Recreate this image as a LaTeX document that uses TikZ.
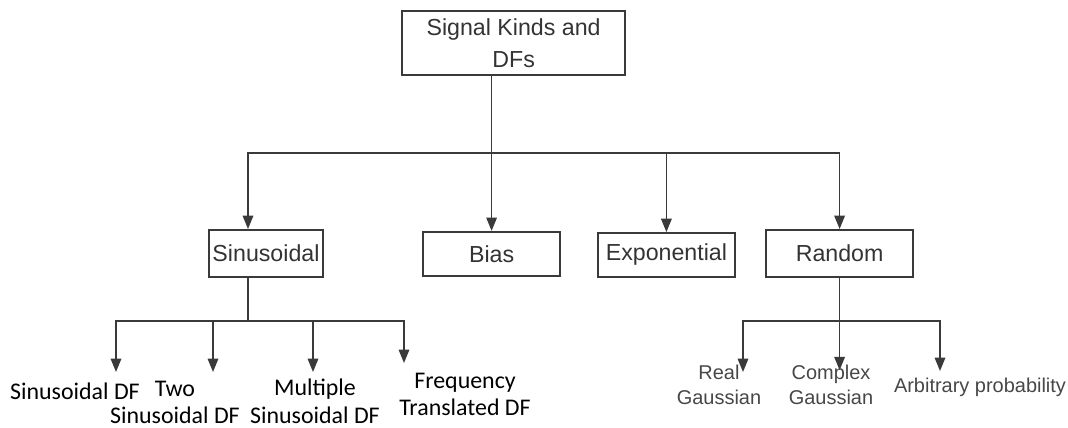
\documentclass[tikz,border=0pt]{standalone}
\usepackage{fontspec}
\setmainfont{Liberation Sans}
\newfontfamily\calibri{Carlito}
\usepackage{xcolor}
\usepackage{tikz}
\usetikzlibrary{arrows.meta, positioning}
\definecolor{linegray}{HTML}{3A3A3A}
\definecolor{textgray}{HTML}{333333}
\definecolor{leafgray}{HTML}{474747}
\tikzstyle{arrow} = [-{Triangle[length=9.5pt,width=7.5pt]}, line width=1.1pt, draw=linegray]
\tikzstyle{line} = [line width=1.1pt, draw=linegray]
\tikzstyle{block} = [rectangle, draw=linegray, line width=1.3pt, inner sep=0pt, text centered, text=textgray, font=\fontsize{16.5}{25}\selectfont]
\tikzstyle{leaf} = [align=center, inner sep=0pt, anchor=north, font=\calibri\fontsize{17}{19.5}\selectfont]
\tikzstyle{leafsans} = [align=center, inner sep=0pt, anchor=north, text=leafgray, font=\fontsize{14.2}{17.8}\selectfont]

\begin{document}
\begin{tikzpicture}
  \useasboundingbox (0, 0) rectangle (26.7, 10.675);

  % First Layer
  \node[block, align=center, minimum width=5.575cm, minimum height=1.6cm] (kinds) at (12.84, 9.6) {\raisebox{-2pt}{Signal Kinds and}\\DFs};

  % Second Layer
  \node[block, minimum width=2.85cm, minimum height=1.175cm] (sinus) at (6.65, 4.34) {Sinusoidal};
  \node[block, minimum width=3.425cm, minimum height=1.1cm] (bias) at (12.29, 4.33) {Bias};
  \node[block, minimum width=3.425cm, minimum height=1.1cm] (expo) at (16.66, 4.3) {Exponential};
  \node[block, minimum width=3.675cm, minimum height=1.175cm] (random) at (20.99, 4.34) {Random};

  \coordinate (hub) at (12.29, 6.85);

  \draw[arrow] (kinds.south -| hub) -- (bias.north);
  \draw[arrow] (hub) -| ([xshift=-0.45cm]sinus.north);
  \draw[arrow] (hub) -| (random.north);
  \draw[arrow] (hub -| expo.north) -- (expo.north);

  % Third Layer
  \coordinate (sin_hub) at (6.2, 2.65);
  \coordinate (t_sdf) at (2.9, 1.375);
  \coordinate (t_two) at (5.325, 1.375);
  \coordinate (t_mult) at (7.825, 1.375);
  \coordinate (t_freq) at (10.1, 1.6);

  \draw[line] (sinus.south -| sin_hub) -- (sin_hub);
  \draw[arrow] (sin_hub) -| (t_sdf);
  \draw[arrow] (sin_hub) -| (t_freq);
  \draw[arrow] (t_two |- sin_hub) -- (t_two);
  \draw[arrow] (t_mult |- sin_hub) -- (t_mult);

  \coordinate (rnd_hub) at (20.99, 2.65);
  \coordinate (t_real) at (18.575, 1.375);
  \coordinate (t_cplx) at (20.99, 1.42);
  \coordinate (t_arb) at (23.5, 1.4);

  \draw[line] (random.south) -- (rnd_hub);
  \draw[arrow] (rnd_hub) -| (t_real);
  \draw[arrow] (rnd_hub) -| (t_arb);
  \draw[arrow] (rnd_hub) -- (t_cplx);

  % Fourth Layer
  \node[leaf] (sdf) at (1.875, 1.12) {Sinusoidal DF};
  \node[leaf] (two) at (4.375, 1.16) {Two\\Sinusoidal DF};
  \node[leaf] (mult) at (7.875, 1.2) {Multiple\\Sinusoidal DF};
  \node[leaf] (freq) at (11.625, 1.36) {Frequency\\Translated DF};

  \node[leafsans] (real) at (17.975, 1.55) {Real\\Gaussian};
  \node[leafsans] (cplx) at (20.775, 1.55) {Complex\\Gaussian};
  \node[leafsans] (arb) at (24.5, 1.225) {Arbitrary probability};

\end{tikzpicture}
\end{document}
